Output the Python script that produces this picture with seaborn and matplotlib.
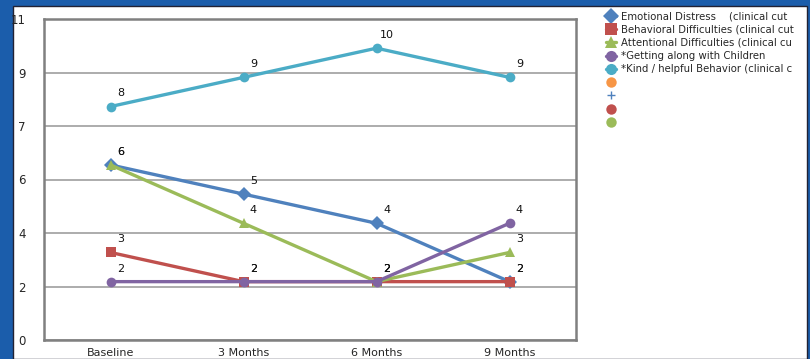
import numpy as np
import pandas as pd
import matplotlib
matplotlib.use("Agg")
import matplotlib.pyplot as plt
from matplotlib.lines import Line2D
from matplotlib.patches import Rectangle
import seaborn as sns

# ---- data ----
time_points = ["Baseline", "3 Months", "6 Months", "9 Months"]
series_names = [
    "Emotional Distress    (clinical cut",
    "Behavioral Difficulties (clinical cut",
    "Attentional Difficulties (clinical cu",
    "*Getting along with Children",
    "*Kind / helpful Behavior (clinical c",
]
emotional = [6, 5, 4, 2]
behavioral = [3, 2, 2, 2]
attentional = [6, 4, 2, 3]
getting_along = [2, 2, 2, 4]
kind_helpful = [8, 9, 10, 9]
y_tick_labels = ["0", "2", "4", "6", "7", "9", "11"]
y_max = 11

series_values = [emotional, behavioral, attentional, getting_along, kind_helpful]
colors = ["#4F81BD", "#C0504D", "#9BBB59", "#8064A2", "#4BACC6"]
markers = ["D", "s", "^", "o", "o"]
extra_legend = [("o", "#F79646"), ("+", "#4F81BD"), ("o", "#C0504D"), ("o", "#9BBB59")]

rows = []
for name, vals in zip(series_names, series_values):
    for t, v in zip(time_points, vals):
        rows.append({"time": t, "value": v, "series": name})
df = pd.DataFrame(rows)

sns.set_style("white")
plt.rcParams["font.family"] = ["DejaVu Sans"]

W, H = 810, 359
fig = plt.figure(figsize=(W / 100, H / 100), dpi=100)
fig.patch.set_facecolor("#1b5dab")
fig.patches.append(Rectangle((13 / W, 0), (807 - 13) / W, (H - 6) / H,
                             transform=fig.transFigure, facecolor="white",
                             edgecolor="#222233", linewidth=1.0, zorder=-10))

ax = fig.add_axes([44 / W, (H - 340) / H, (576 - 44) / W, (340 - 19) / H])
ax.set_facecolor("white")

sns.lineplot(data=df, x="time", y="value", hue="series", style="series",
             hue_order=series_names, style_order=series_names,
             palette=dict(zip(series_names, colors)),
             markers=dict(zip(series_names, markers)), dashes=False,
             linewidth=2.4, markersize=7, markeredgewidth=0,
             ax=ax, legend=False, zorder=3)

# data labels
for vals in series_values:
    for i, v in enumerate(vals):
        ax.annotate(str(v), (i, v), xytext=(7.2, 9.4), textcoords="offset points",
                    ha="center", va="center", fontsize=8, color="#111111", zorder=5)

ax.set_xlim(-0.5, len(time_points) - 0.5)
ax.set_ylim(0, y_max)
yt = np.linspace(0, y_max, len(y_tick_labels))
ax.set_yticks(yt)
ax.set_yticklabels(y_tick_labels, fontsize=8.5)
ax.yaxis.grid(True, color="#a6a6a6", linewidth=1.3)
ax.set_axisbelow(True)
ax.tick_params(axis="y", length=1.5, width=1, color="#808080", pad=11.5)

ax.set_xticks(range(len(time_points)))
ax.set_xticklabels(time_points, fontsize=8)
ax.set_xticks(np.arange(-0.5, len(time_points), 1.0), minor=True)
ax.tick_params(axis="x", which="major", length=0, pad=6)
ax.tick_params(axis="x", which="minor", length=2, width=1.2, color="#555555")
ax.set_xlabel("")
ax.set_ylabel("")
for s in ax.spines.values():
    s.set_color("#808080")
    s.set_linewidth(1.8)

handles = [Line2D([0], [0], color=c, marker=m, markersize=8, markeredgewidth=0, linewidth=2.4)
           for c, m in zip(colors, markers)]
labels = list(series_names)
for m, c in extra_legend:
    if m == "+":
        handles.append(Line2D([0], [0], color=c, marker=m, markersize=6, markeredgewidth=1, linestyle="none"))
    else:
        handles.append(Line2D([0], [0], color=c, marker=m, markersize=7.5, markeredgewidth=0, linestyle="none"))
    labels.append("")
leg = fig.legend(handles, labels, loc="upper left", bbox_to_anchor=(606 / W, 1 - 11.5 / H),
                 frameon=False, fontsize=7.3, handlelength=1.0, handletextpad=0.5,
                 labelspacing=0.32, borderaxespad=0, borderpad=0)

fig.savefig("out.png", dpi=100, facecolor=fig.get_facecolor())
